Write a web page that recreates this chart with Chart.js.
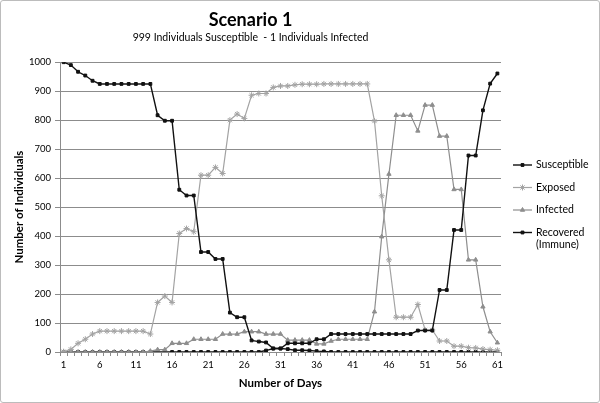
<!DOCTYPE html>
<html>
<head>
<meta charset="utf-8">
<script src="https://cdn.jsdelivr.net/npm/chart.js@4.4.1/dist/chart.umd.min.js"></script>
<style>
  body { margin: 0; background: #fff; }
  #wrap { position: relative; width: 600px; height: 403px; }
  #frame { position: absolute; left: 0; top: 0; width: 598px; height: 401px; border: 1px solid #bcbcbc; border-radius: 3px; pointer-events: none; }
</style>
</head>
<body>
<div id="wrap">
  <canvas id="chart" width="600" height="403"></canvas>
  <div id="frame"></div>
</div>
<script>
var days = [1,2,3,4,5,6,7,8,9,10,11,12,13,14,15,16,17,18,19,20,
  21,22,23,24,25,26,27,28,29,30,31,32,33,34,35,36,37,38,39,40,
  41,42,43,44,45,46,47,48,49,50,51,52,53,54,55,56,57,58,59,60,61];

var susceptible = [1000,990,967,954,936,925,925,925,925,925,925,925,925,817,798,798,560,540,540,345,
  345,321,321,136,120,120,40,36,33,12,12,30,30,30,30,44,44,62,62,62,
  62,62,62,62,62,62,62,62,62,74,74,74,214,214,421,421,678,678,834,926,961];

var exposed = [1,9,30,44,62,72,72,72,72,72,72,72,62,171,193,171,409,426,415,610,
  610,637,616,800,821,806,886,892,892,913,918,918,922,924,924,924,925,925,925,925,
  925,925,925,797,539,318,120,120,120,164,76,76,38,38,20,20,15,14,10,8,6];

var infected = [0,0,0,0,0,0,0,0,0,0,0,0,3,8,8,30,30,30,44,44,
  44,44,62,62,62,70,70,70,62,62,62,41,41,41,41,28,28,38,44,44,
  44,44,44,139,398,614,817,817,817,763,852,852,745,745,561,561,318,318,156,70,32];

var recovered = [0,0,0,0,0,0,0,0,0,0,0,0,0,0,0,0,0,0,0,0,
  0,0,0,0,0,0,0,0,5,12,12,10,6,6,5,3,2,0,0,0,
  0,0,0,0,0,0,0,0,0,0,0,0,0,0,0,0,0,0,0,0,0];

var yTicks = [0,100,200,300,400,500,600,700,800,900,1000];

var font = "Lato, 'Open Sans', sans-serif";

// legend drawn by hand so "Recovered (Immune)" can wrap like the original
var legendItems = [
  { index: 0, y: 165, text: ["Susceptible"] },
  { index: 1, y: 187.5, text: ["Exposed"] },
  { index: 2, y: 210, text: ["Infected"] },
  { index: 3, y: 232.5, text: ["Recovered", "(Immune)"] }
];

var sideLegend = {
  id: 'sideLegend',
  afterDraw: function(chart) {
    var ctx = chart.ctx;
    ctx.save();
    ctx.font = '10.5px ' + font;
    ctx.textBaseline = 'middle';
    ctx.textAlign = 'left';
    legendItems.forEach(function(item) {
      var ds = chart.data.datasets[item.index];
      ctx.strokeStyle = ds.borderColor;
      ctx.lineWidth = ds.borderWidth;
      ctx.beginPath();
      ctx.moveTo(513, item.y);
      ctx.lineTo(532, item.y);
      ctx.stroke();
      ctx.fillStyle = ds.pointBackgroundColor;
      ctx.strokeStyle = ds.pointBorderColor;
      ctx.lineWidth = 1;
      Chart.helpers.drawPoint(ctx, { pointStyle: ds.pointStyle, radius: ds.pointRadius, borderWidth: 1, rotation: 0 }, 522.5, item.y);
      ctx.fillStyle = '#000';
      item.text.forEach(function(t, i) {
        ctx.fillText(t, 536, item.y + i * 12.5);
      });
    });
    ctx.restore();
  }
};

function makeSet(label, data, color, style, radius, width) {
  return {
    label: label,
    data: data,
    borderColor: color,
    borderWidth: width,
    backgroundColor: color,
    pointBackgroundColor: color,
    pointBorderColor: color,
    pointBorderWidth: 1,
    pointStyle: style,
    pointRadius: radius,
    tension: 0,
    fill: false
  };
}

var ctx = document.getElementById("chart").getContext("2d");
var chart = new Chart(ctx, {
  type: "line",
  data: {
    labels: days,
    datasets: [
      makeSet("Susceptible", susceptible, "#111111", "rect", 2, 1.4),
      makeSet("Exposed", exposed, "#a3a3a3", "star", 3, 1.2),
      makeSet("Infected", infected, "#8e8e8e", "triangle", 2.5, 1.2),
      makeSet("Recovered (Immune)", recovered, "#111111", "rect", 2, 1.4)
    ]
  },
  plugins: [sideLegend],
  options: {
    responsive: false,
    animation: false,
    devicePixelRatio: 1,
    layout: { padding: { left: 0, right: 99, top: 0, bottom: 0 } },
    plugins: {
      legend: { display: false },
      tooltip: { enabled: false },
      title: {
        display: true,
        text: "Scenario 1",
        color: "#000",
        font: { family: font, size: 18, weight: "bold", lineHeight: 1.2 },
        padding: { top: 9, bottom: 0 }
      },
      subtitle: {
        display: true,
        text: "999 Individuals Susceptible  - 1 Individuals Infected",
        color: "#000",
        font: { family: font, size: 10.5, lineHeight: 1.2 },
        padding: { top: 1, bottom: 18 }
      }
    },
    scales: {
      x: {
        offset: true,
        grid: { display: true, drawOnChartArea: false, drawTicks: true, tickLength: 4, offset: true, color: "#8c8c8c" },
        border: { color: "#8c8c8c" },
        ticks: {
          autoSkip: false,
          maxRotation: 0,
          padding: 3,
          color: "#000",
          font: { family: font, size: 9.5 },
          callback: function(v, i) { return i % 5 === 0 ? days[i] : ""; }
        },
        title: {
          display: true,
          text: "Number of Days",
          color: "#000",
          font: { family: font, size: 11.5, weight: "bold", lineHeight: 1.2 },
          padding: { top: 0, bottom: 13 }
        },
        afterFit: function(scale) { scale.height = 51; }
      },
      y: {
        min: 0,
        max: 1000,
        afterBuildTicks: function(scale) {
          scale.ticks = yTicks.map(function(v) { return { value: v }; });
        },
        grid: { color: "#8c8c8c", tickLength: 5 },
        border: { color: "#8c8c8c" },
        ticks: {
          padding: 4,
          color: "#000",
          font: { family: font, size: 9.5 },
          callback: function(v) { return String(v); }
        },
        title: {
          display: true,
          text: "Number of Individuals",
          color: "#000",
          font: { family: font, size: 11.5, weight: "bold", lineHeight: 1.2 },
          padding: { top: 12, bottom: 0 }
        },
        afterFit: function(scale) { scale.width = 60; }
      }
    }
  }
});
</script>
</body>
</html>
